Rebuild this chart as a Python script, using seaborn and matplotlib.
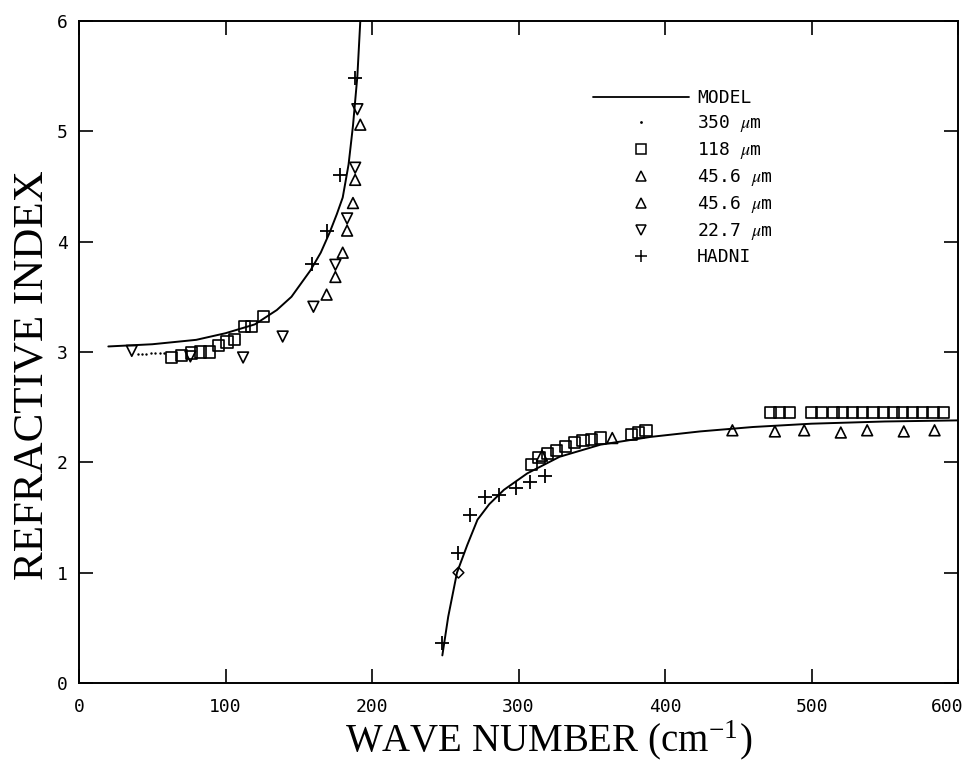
import matplotlib
matplotlib.use('Agg')
import matplotlib.pyplot as plt
import matplotlib.transforms as mtransforms
import seaborn as sns
from matplotlib.lines import Line2D
from matplotlib.legend_handler import HandlerLine2D

sns.set_style('ticks')
plt.rcParams['font.family'] = ['DejaVu Sans Mono']
plt.rcParams['mathtext.fontset'] = 'stix'
for k in ['text.color', 'axes.labelcolor', 'xtick.color', 'ytick.color', 'axes.edgecolor']:
    plt.rcParams[k] = 'black'

# model curve (two branches)
model_lo_x = [20, 50, 80, 100, 120, 135, 145, 158, 165, 171, 176, 180, 184, 187, 190, 192]
model_lo_y = [3.05, 3.07, 3.11, 3.17, 3.25, 3.38, 3.50, 3.74, 3.90, 4.08, 4.25, 4.40, 4.70, 5.05, 5.50, 6.00]
model_hi_x = [248, 252, 258, 265, 272, 280, 290, 306, 328, 356, 390, 424, 460, 500, 550, 600]
model_hi_y = [0.25, 0.60, 1.00, 1.25, 1.48, 1.62, 1.75, 1.90, 2.05, 2.16, 2.23, 2.28, 2.32, 2.35, 2.37, 2.38]

# 350 um
d350_x = [40, 43, 46, 49, 52, 55, 58]
d350_y = [2.98, 2.98, 2.98, 2.99, 2.99, 2.99, 2.99]
diam_x = [259]
diam_y = [1.0]

# 118 um
sq_x = [63, 70, 77, 83, 89, 95, 101, 106, 113, 118, 126,
        309, 314, 320, 326, 332, 338, 344, 350, 356, 377, 382, 387,
        472, 478, 485, 500, 507, 515, 521, 528, 535, 542, 549, 556, 562, 569, 576, 583, 590]
sq_y = [2.95, 2.97, 2.99, 3.00, 3.00, 3.06, 3.09, 3.11, 3.23, 3.23, 3.32,
        1.98, 2.04, 2.08, 2.11, 2.14, 2.18, 2.20, 2.21, 2.22, 2.25, 2.27, 2.29,
        2.45, 2.45, 2.45, 2.45, 2.45, 2.45, 2.45, 2.45, 2.45, 2.45, 2.45, 2.45, 2.45, 2.45, 2.45, 2.45, 2.45]

# 45.6 um (two runs)
tri1_x = [169, 175, 180, 183, 187, 188.5, 192]
tri1_y = [3.52, 3.68, 3.90, 4.10, 4.35, 4.56, 5.06]
tri2_x = [316, 364, 446, 475, 495, 520, 538, 563, 584]
tri2_y = [2.06, 2.22, 2.29, 2.28, 2.29, 2.27, 2.29, 2.28, 2.29]

# 22.7 um
inv_x = [36, 76, 112, 139, 160, 175, 183, 188.5, 190]
inv_y = [3.01, 2.96, 2.95, 3.14, 3.41, 3.79, 4.21, 4.67, 5.20]

# HADNI
plus_x = [159, 169, 178, 188.5, 248, 259, 267, 277, 287, 298, 308, 318]
plus_y = [3.80, 4.10, 4.60, 5.48, 0.36, 1.18, 1.52, 1.69, 1.70, 1.77, 1.82, 1.88]

legend_labels = ['MODEL', '350 $\\mu$m', '118 $\\mu$m', '45.6 $\\mu$m', '45.6 $\\mu$m',
                 '22.7 $\\mu$m', 'HADNI']

fig, ax = plt.subplots(figsize=(9.72, 7.68), dpi=100)
fig.subplots_adjust(left=0.0813, right=0.9856, bottom=0.1107, top=0.9727)

sns.lineplot(x=model_lo_x, y=model_lo_y, color='black', lw=1.4, sort=False, estimator=None, ax=ax)
sns.lineplot(x=model_hi_x, y=model_hi_y, color='black', lw=1.4, sort=False, estimator=None, ax=ax)

sns.scatterplot(x=d350_x, y=d350_y, marker='.', s=12, color='black', linewidth=0, ax=ax)
sns.scatterplot(x=diam_x, y=diam_y, marker='D', s=30, facecolor='none', edgecolor='black', linewidth=1.1, ax=ax)
sns.scatterplot(x=sq_x, y=sq_y, marker='s', s=65, facecolor='none', edgecolor='black', linewidth=1.2, ax=ax)
sns.scatterplot(x=tri1_x, y=tri1_y, marker='^', s=60, facecolor='none', edgecolor='black', linewidth=1.2, ax=ax)
sns.scatterplot(x=tri2_x, y=tri2_y, marker='^', s=60, facecolor='none', edgecolor='black', linewidth=1.2, ax=ax)
sns.scatterplot(x=inv_x, y=inv_y, marker='v', s=60, facecolor='none', edgecolor='black', linewidth=1.2, ax=ax)
sns.scatterplot(x=plus_x, y=plus_y, marker='+', s=90, color='black', linewidth=1.3, ax=ax)

ax.set_xlim(0, 600)
ax.set_ylim(0, 6)
ax.set_xticks(range(0, 601, 100))
ax.set_yticks(range(0, 7))
ax.tick_params(direction='in', length=10, width=1.2, top=True, right=True, labelsize=13)
ax.tick_params(axis='x', pad=11)
ax.tick_params(axis='y', pad=8)
for s in ax.spines.values():
    s.set_linewidth(1.4)
    s.set_color('black')

# last x label sits a little left so it stays on the page
fig.canvas.draw()
last = ax.get_xticklabels()[-1]
last.set_transform(last.get_transform() + mtransforms.ScaledTranslation(-8 / 72, 0, fig.dpi_scale_trans))

ax.set_xlabel('WAVE NUMBER (cm$^{\\mathregular{-1}}$)', family='Liberation Serif', fontsize=28, va='baseline')
ax.set_ylabel('REFRACTIVE INDEX', family='Liberation Serif', fontsize=31, va='baseline')
ax.xaxis.set_label_coords(0.534, -0.104)
ax.yaxis.set_label_coords(-0.042, 0.465)


class LeftMarker(HandlerLine2D):
    def get_xdata(self, legend, xdescent, ydescent, width, height, fontsize):
        return [-xdescent, -xdescent + width], [-xdescent]


handles = [Line2D([], [], color='black', lw=1.3)]
for m, ms in [('.', 4), ('s', 7), ('^', 7), ('^', 7), ('v', 7), ('+', 9)]:
    handles.append(Line2D([], [], ls='none', marker=m, ms=ms, mfc='none', mec='black',
                          mew=1.1 if m != '.' else 0, color='black'))
handles[1].set_markerfacecolor('black')

ax.legend(handles, legend_labels, loc='upper left', bbox_to_anchor=(0.585, 0.897),
          frameon=False, fontsize=13, handlelength=5.3, handletextpad=0.45,
          labelspacing=0.33, borderpad=0, borderaxespad=0,
          handler_map={Line2D: LeftMarker()})

plt.savefig('out.png')
